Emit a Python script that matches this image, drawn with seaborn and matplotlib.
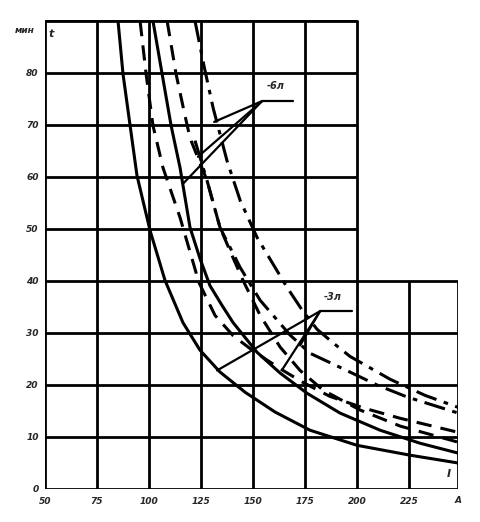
import numpy as np
import pandas as pd
import matplotlib
matplotlib.use("Agg")
import matplotlib.pyplot as plt
import seaborn as sns

# axis ticks (current I, A  /  time t, min)
x_ticks = [50, 75, 100, 125, 150, 175, 200, 225]
x_right = 248.5
y_ticks = [0, 10, 20, 30, 40, 50, 60, 70, 80, 90]
y_step_top = 40      # above this the grid stops at x = 200
x_step_right = 200

# curves
s1_x = [85.1, 87.5, 90.9, 94.2, 100.5, 107.7, 116.3, 124.5, 134.1, 146.2, 160.6, 177.4, 200.0, 225.5, 248.6]
s1_y = [90.0, 79.8, 69.9, 60.3, 49.7, 40.1, 32.0, 26.7, 22.5, 18.6, 14.8, 11.3, 8.4, 6.5, 5.0]

s2_x = [101.9, 106.3, 110.6, 114.9, 119.7, 124.5, 129.3, 135.1, 140.4, 151.9, 163.0, 176.0, 191.8, 211.1, 230.3, 248.6]
s2_y = [90.0, 79.8, 69.9, 61.8, 50.3, 44.3, 39.1, 35.3, 32.0, 26.3, 22.3, 18.4, 14.6, 11.3, 8.8, 6.9]

d1_x = [95.7, 98.6, 101.9, 106.7, 114.9, 124.0, 131.7, 140.4, 148.6, 156.7, 164.4, 174.0, 187.0, 203.8, 220.7, 248.6]
d1_y = [90.0, 79.8, 69.9, 61.8, 52.2, 39.7, 33.4, 29.5, 27.0, 24.8, 22.8, 20.5, 17.8, 15.5, 13.6, 10.9]

d2_x = [108.7, 113.0, 116.8, 119.7, 127.9, 134.1, 139.9, 145.2, 153.4, 163.0, 172.6, 183.7, 201.4, 220.7, 248.6]
d2_y = [90.0, 79.8, 72.7, 67.5, 59.3, 50.3, 44.9, 40.1, 33.4, 27.3, 22.8, 19.0, 15.2, 12.1, 9.0]

dd1_x = [122.1, 127.9, 134.1, 143.8, 153.4, 167.8, 177.4, 191.8, 209.6, 224.0, 248.6]
dd1_y = [67.0, 59.3, 50.3, 42.6, 36.3, 29.6, 26.1, 23.4, 20.0, 17.7, 14.6]

dd2_x = [122.1, 126.4, 130.8, 137.5, 143.8, 151.9, 159.1, 166.3, 173.6, 180.8, 189.4, 196.6, 215.9, 232.7, 248.6]
dd2_y = [90.0, 81.4, 73.3, 63.1, 55.5, 48.4, 43.6, 38.8, 34.4, 30.7, 27.8, 25.5, 21.1, 18.0, 15.7]

# annotation leaders
lab1_text = "-6л"
lab1_xy = (156.5, 76.5)
lab1_line_x = [154.3, 169.2]
lab1_line_y = [74.6, 74.6]
lab1_tx = [116.3, 123.5, 131.3]
lab1_ty = [58.7, 63.9, 70.6]

lab2_text = "-3л"
lab2_xy = (184.0, 36.0)
lab2_line_x = [182.2, 197.6]
lab2_line_y = [34.2, 34.2]
lab2_tx = [132.7, 164.4, 172.6]
lab2_ty = [22.8, 23.2, 27.6]

sns.set_style("white")
plt.rcParams['font.family'] = ['DejaVu Sans']

fig = plt.figure(figsize=(4.8, 5.22), dpi=100)
ax = fig.add_axes([45 / 480, 33 / 522, 413 / 480, 469 / 522])
ax.set_xlim(50, x_right)
ax.set_ylim(0, 90.2)
for s in ax.spines.values():
    s.set_visible(False)
ax.set_xticks([])
ax.set_yticks([])

gk = dict(color="black", lw=2.0, solid_capstyle="butt", zorder=1)
# L-shaped grid
for xv in x_ticks + [x_right]:
    top = 90.2 if xv <= x_step_right else y_step_top
    ax.plot([xv, xv], [0, top], **gk)
for yv in y_ticks + [90.2]:
    right = x_right if yv <= y_step_top else x_step_right
    ax.plot([50, right], [yv, yv], **gk)

ck = dict(color="black", lw=2.2, sort=False, ax=ax, zorder=3)
sns.lineplot(x=s1_x, y=s1_y, **ck)
sns.lineplot(x=s2_x, y=s2_y, **ck)
sns.lineplot(x=d1_x, y=d1_y, ls=(0, (5, 3)), **ck)
sns.lineplot(x=d2_x, y=d2_y, ls=(0, (5, 3)), **ck)
sns.lineplot(x=dd1_x, y=dd1_y, ls=(0, (7, 2.5, 1.5, 2.5)), **ck)
sns.lineplot(x=dd2_x, y=dd2_y, ls=(0, (7, 2.5, 1.5, 2.5)), **ck)

# leaders
lk = dict(color="black", lw=1.6, zorder=4)
ax.plot(lab1_line_x, lab1_line_y, **lk)
for tx, ty in zip(lab1_tx, lab1_ty):
    ax.plot([lab1_line_x[0], tx], [lab1_line_y[0], ty], **lk)
ax.text(*lab1_xy, lab1_text, fontsize=7, fontweight="bold", style="italic", va="bottom")
ax.plot(lab2_line_x, lab2_line_y, **lk)
for tx, ty in zip(lab2_tx, lab2_ty):
    ax.plot([lab2_line_x[0], tx], [lab2_line_y[0], ty], **lk)
ax.text(*lab2_xy, lab2_text, fontsize=7, fontweight="bold", style="italic", va="bottom")

# tick labels
tk = dict(fontsize=6.5, fontweight="bold", style="italic")
for yv in y_ticks[:-1]:
    ax.text(47, yv, str(yv), ha="right", va="center", **tk)
for xv in x_ticks:
    ax.text(xv, -1.5, str(xv), ha="center", va="top", **tk)
ax.text(x_right, -1.3, "A", ha="center", va="top", **tk)
ax.text(40, 89, "мин", ha="center", va="top", **tk)
ax.text(51.5, 88.5, "t", ha="left", va="top", fontsize=8, fontweight="bold", style="italic")
ax.text(244, 2.0, "I", ha="center", va="bottom", fontsize=8, fontweight="bold", style="italic")

for ln in ax.lines:
    ln.set_clip_on(True)

fig.savefig("out.png", dpi=100)
